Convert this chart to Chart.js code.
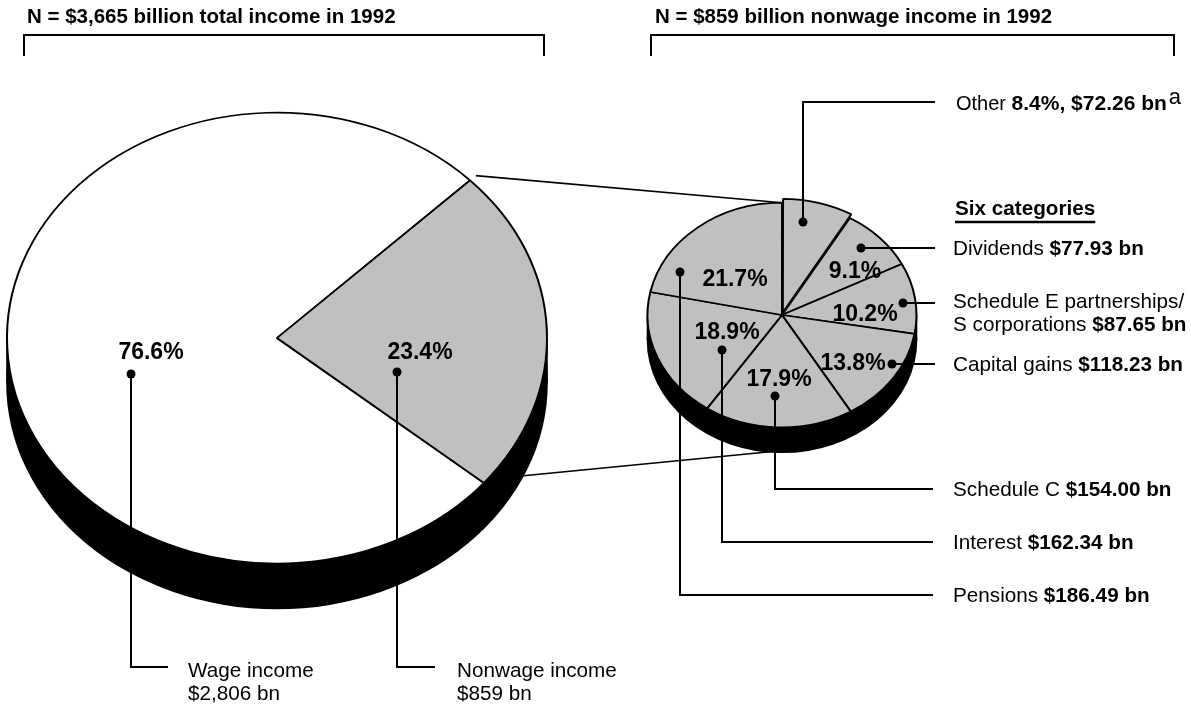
<!DOCTYPE html>
<html>
<head>
<meta charset="utf-8">
<script src="https://cdn.jsdelivr.net/npm/chart.js@4.4.1/dist/chart.umd.min.js"></script>
<style>
  html, body { margin: 0; padding: 0; background: #fff; }
  #wrap { position: relative; width: 1191px; height: 709px; overflow: hidden; }
  #wrap canvas { position: absolute; left: 0; top: 0; }
</style>
</head>
<body>
<div id="wrap">
  <canvas id="totalPie" width="1191" height="709"></canvas>
  <canvas id="nonwagePie" width="1191" height="709"></canvas>
</div>
<script>
// values in $ billion, 1992
const totalLabels = ["Wage income", "Nonwage income"];
const totalValues = [2806, 859];
const nonwageLabels = ["Other", "Dividends", "Schedule E partnerships/", "Capital gains", "Schedule C", "Interest", "Pensions"];
const nonwageSecondLine = [null, null, "S corporations", null, null, null, null];
const nonwageValues = [72.26, 77.93, 87.65, 118.23, 154.00, 162.34, 186.49];
const titles = ["N = $3,665 billion total income in 1992", "N = $859 billion nonwage income in 1992"];

const W = 1191, H = 709;
const TILT = 0.835;
const FONT = '"Liberation Sans", Arial, Helvetica, sans-serif';
const GRAY = "#c0c0c0";
const LABEL_SIZE = 20.7;
const LINE_W = 2;

// where the pies sit on the page
const totalCenter = [277, 338], totalRadius = 270, totalDepth = 45;
const nonwageCenter = [782, 315], nonwageRadius = 134.5, nonwageDepth = 25;

function pct(v, arr) {
  const sum = arr.reduce((a, b) => a + b, 0);
  return (v / sum * 100).toFixed(1) + "%";
}

function padFor(c) {
  const hw = 150;
  return { left: c[0] - hw, right: W - (c[0] + hw), top: c[1] - hw, bottom: H - (c[1] + hw) };
}

function richText(ctx, x, y, parts) {
  let px = x;
  parts.forEach(p => {
    ctx.font = (p.bold ? "bold " : "") + p.size + "px " + FONT;
    ctx.fillText(p.text, px, y + (p.dy || 0));
    px += ctx.measureText(p.text).width;
  });
  return px;
}

function dot(ctx, x, y) {
  ctx.beginPath();
  ctx.arc(x, y, 4.5, 0, Math.PI * 2);
  ctx.fill();
}

function polyline(ctx, pts) {
  ctx.beginPath();
  ctx.moveTo(pts[0][0], pts[0][1]);
  for (let i = 1; i < pts.length; i++) ctx.lineTo(pts[i][0], pts[i][1]);
  ctx.stroke();
}

// squashes the pie into an ellipse and puts a black rim under it
const tilt3d = {
  id: "tilt3d",
  beforeDatasetsDraw(chart, args, opts) {
    const arc = chart.getDatasetMeta(0).data[0];
    const cx = arc.x, cy = arc.y, r = arc.outerRadius, ry = r * TILT;
    const ctx = chart.ctx;
    ctx.save();
    ctx.fillStyle = "#000";
    ctx.beginPath();
    ctx.ellipse(cx, cy + opts.depth, r + 0.8, ry + 0.8, 0, 0, Math.PI * 2);
    ctx.fill();
    ctx.fillRect(cx - r - 0.8, cy, 2 * r + 1.6, opts.depth);
    ctx.translate(cx, cy);
    ctx.scale(1, TILT);
    ctx.translate(-cx, -cy);
  },
  afterDatasetsDraw(chart) {
    chart.ctx.restore();
  }
};

// label layout, offsets relative to pie centre
const totalPctPos = [[-126, 13], [143, 13]];
const totalDotPos = [[-146, 36], [120, 34]];
const totalLineEnd = [168, 435];
const totalTextX = [188, 457];

const nonwagePctPos = [null, [73, -45], [83, -2], [71, 47], [-3, 63], [-55, 16], [-47, -37]];
const nonwageDotPos = [[21, -93], [79, -67], [121, -12], [110, 49], [-7, 81], [-60, 35], [-102, -43]];
const nonwageElbowY = [102, null, null, null, 489, 542, 595];

const totalNotes = {
  id: "totalNotes",
  afterDraw(chart) {
    const ctx = chart.ctx;
    const arc = chart.getDatasetMeta(0).data[0];
    const cx = arc.x, cy = arc.y;
    ctx.save();
    ctx.fillStyle = "#000";
    ctx.strokeStyle = "#000";
    ctx.lineWidth = LINE_W;
    ctx.textBaseline = "alphabetic";

    // title + bracket
    richText(ctx, 27, 23, [{ text: titles[0], bold: true, size: 20.5 }]);
    polyline(ctx, [[24, 56], [24, 35], [544, 35], [544, 56]]);

    totalValues.forEach((v, i) => {
      ctx.textAlign = "center";
      ctx.font = "bold 23px " + FONT;
      ctx.fillText(pct(v, totalValues), cx + totalPctPos[i][0], cy + totalPctPos[i][1] + 8);
      ctx.textAlign = "left";
      const dx = cx + totalDotPos[i][0], dy = cy + totalDotPos[i][1];
      dot(ctx, dx, dy);
      polyline(ctx, [[dx, dy], [dx, 667], [totalLineEnd[i], 667]]);
      richText(ctx, totalTextX[i], 677, [{ text: totalLabels[i], size: LABEL_SIZE }]);
      richText(ctx, totalTextX[i], 700, [{ text: "$" + v.toLocaleString("en-US") + " bn", size: LABEL_SIZE }]);
    });
    ctx.restore();
  }
};

const nonwageNotes = {
  id: "nonwageNotes",
  afterDraw(chart) {
    const ctx = chart.ctx;
    const arc = chart.getDatasetMeta(0).data[0];
    const cx = arc.x, cy = arc.y, ry = arc.outerRadius * TILT;
    ctx.save();
    ctx.fillStyle = "#000";
    ctx.strokeStyle = "#000";
    ctx.lineWidth = LINE_W;
    ctx.textBaseline = "alphabetic";

    richText(ctx, 655, 23, [{ text: titles[1], bold: true, size: 20.5 }]);
    polyline(ctx, [[651, 56], [651, 35], [1174, 35], [1174, 56]]);

    // connector lines from the nonwage slice of the big pie
    const nw = totalChart.getDatasetMeta(0).data[1];
    const a0 = nw.startAngle;
    const up = [nw.x + nw.outerRadius * 1.03 * Math.cos(a0), nw.y + nw.outerRadius * TILT * 1.03 * Math.sin(a0)];
    ctx.lineWidth = 1.6;
    polyline(ctx, [up, [cx, cy - ry]]);
    polyline(ctx, [[521, 476], [cx - 12, cy + nonwageDepth + ry - 0.5]]);
    ctx.lineWidth = LINE_W;

    // heading for the six categories
    ctx.font = "bold " + LABEL_SIZE + "px " + FONT;
    ctx.fillText("Six categories", 955, 215);
    const uw = ctx.measureText("Six categories").width;
    ctx.lineWidth = 2.4;
    polyline(ctx, [[955, 222], [955 + uw, 222]]);
    ctx.lineWidth = LINE_W;

    nonwageValues.forEach((v, i) => {
      if (nonwagePctPos[i]) {
        ctx.textAlign = "center";
        ctx.font = "bold 23px " + FONT;
        ctx.fillText(pct(v, nonwageValues), cx + nonwagePctPos[i][0], cy + nonwagePctPos[i][1] + 8);
        ctx.textAlign = "left";
      }
      const dx = cx + nonwageDotPos[i][0], dy = cy + nonwageDotPos[i][1];
      dot(ctx, dx, dy);
      const money = "$" + v.toFixed(2) + " bn";
      const ey = nonwageElbowY[i];
      if (i === 0) {
        polyline(ctx, [[dx, dy], [dx, ey], [935, ey]]);
        const end = richText(ctx, 956, ey + 8, [
          { text: nonwageLabels[i] + " ", size: 20 },
          { text: pct(v, nonwageValues) + ", " + money, bold: true, size: 21 }
        ]);
        richText(ctx, end + 2, ey + 2, [{ text: "a", size: 22 }]);
      } else if (ey === null) {
        polyline(ctx, [[dx, dy], [935, dy]]);
        if (nonwageSecondLine[i]) {
          richText(ctx, 953, dy + 5, [{ text: nonwageLabels[i], size: LABEL_SIZE }]);
          richText(ctx, 953, dy + 28, [
            { text: nonwageSecondLine[i] + " ", size: LABEL_SIZE },
            { text: money, bold: true, size: LABEL_SIZE }
          ]);
        } else {
          richText(ctx, 953, dy + 7, [
            { text: nonwageLabels[i] + " ", size: LABEL_SIZE },
            { text: money, bold: true, size: LABEL_SIZE }
          ]);
        }
      } else {
        polyline(ctx, [[dx, dy], [dx, ey], [933, ey]]);
        richText(ctx, 953, ey + 7, [
          { text: nonwageLabels[i] + " ", size: LABEL_SIZE },
          { text: money, bold: true, size: LABEL_SIZE }
        ]);
      }
    });
    ctx.restore();
  }
};

const baseOptions = (center, rotation, depth) => ({
  responsive: false,
  animation: false,
  devicePixelRatio: 1,
  events: [],
  rotation: rotation,
  layout: { padding: padFor(center) },
  plugins: {
    legend: { display: false },
    tooltip: { enabled: false },
    tilt3d: { depth: depth }
  }
});

const totalChart = new Chart(document.getElementById("totalPie"), {
  type: "pie",
  data: {
    labels: totalLabels,
    datasets: [{
      data: totalValues,
      backgroundColor: ["#ffffff", GRAY],
      borderColor: "#000",
      borderWidth: 2,
      radius: totalRadius,
      clip: false
    }]
  },
  options: baseOptions(totalCenter, 130, totalDepth),
  plugins: [tilt3d, totalNotes]
});

const nonwageChart = new Chart(document.getElementById("nonwagePie"), {
  type: "pie",
  data: {
    labels: nonwageLabels,
    datasets: [{
      data: nonwageValues,
      backgroundColor: GRAY,
      borderColor: "#000",
      borderWidth: 2,
      radius: nonwageRadius,
      offset: [12.4, 0, 0, 0, 0, 0, 0],
      clip: false
    }]
  },
  options: baseOptions(nonwageCenter, 0, nonwageDepth),
  plugins: [tilt3d, nonwageNotes]
});
</script>
</body>
</html>
